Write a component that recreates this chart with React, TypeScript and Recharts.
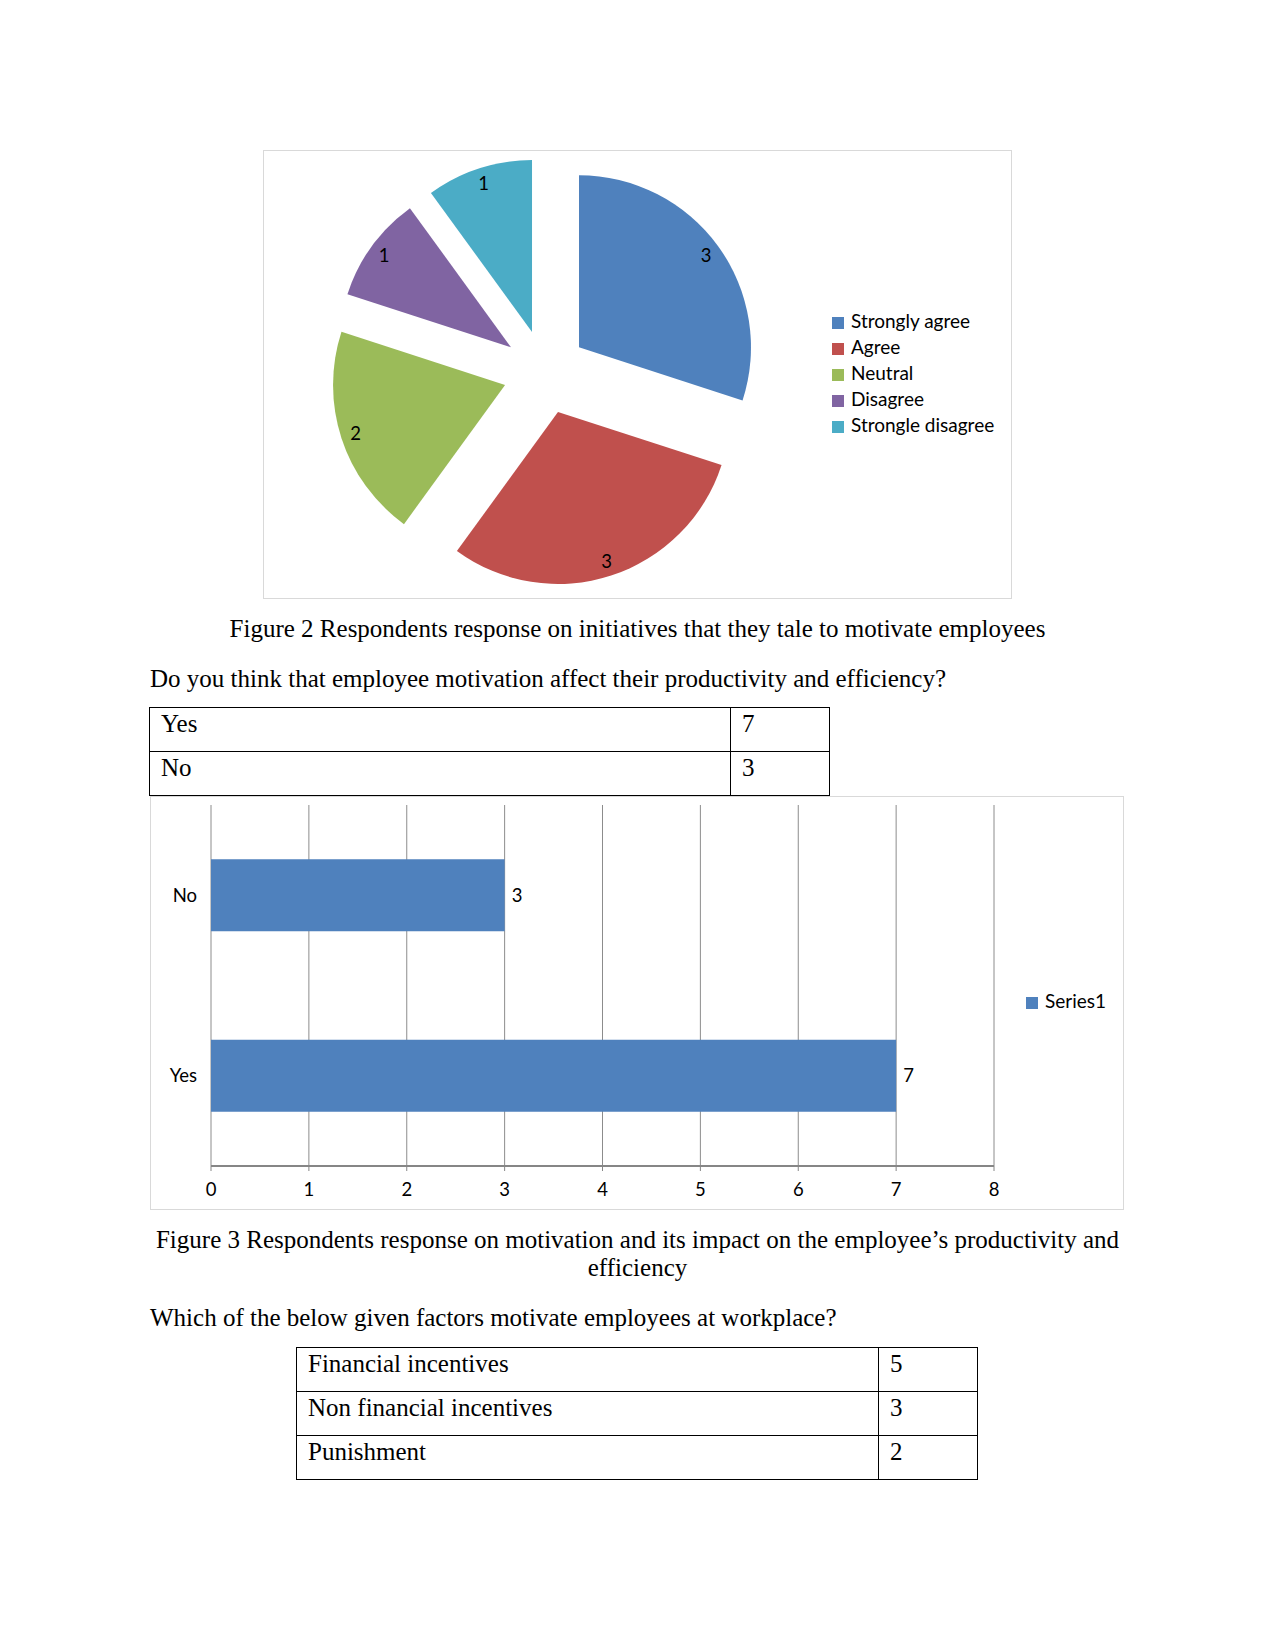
import React from 'react'
import {
  PieChart,
  Pie,
  Cell,
  Legend,
  BarChart,
  Bar,
  XAxis,
  YAxis,
  CartesianGrid,
  LabelList
} from 'recharts'

// figure 2 - pie
const pieNames = ['Strongly agree', 'Agree', 'Neutral', 'Disagree', 'Strongle disagree']
const pieValues = [3, 3, 2, 1, 1]
const pieColors = ['#4F81BD', '#C0504D', '#9BBB59', '#8064A2', '#4BACC6']

// figure 3 - bar (also the first table)
const answerLabels = ['Yes', 'No']
const answerValues = [7, 3]
const xTicks = [0, 1, 2, 3, 4, 5, 6, 7, 8]

// last table
const factorLabels = ['Financial incentives', 'Non financial incentives', 'Punishment']
const factorValues = [5, 3, 2]

const pieData = pieNames.map((name, i) => ({ name, value: pieValues[i] }))
const barData = answerLabels.map((name, i) => ({ name, value: answerValues[i] }))

const EXPLODE = 42
const RAD = Math.PI / 180
const pieTotal = pieValues.reduce((a, b) => a + b, 0)
const midAngles = pieValues.map((v, i) => {
  const before = pieValues.slice(0, i).reduce((a, b) => a + b, 0)
  return 90 - (360 * (before + v / 2)) / pieTotal
})

const chartFont = 'Lato, "Open Sans", sans-serif'
const docFont = '"Liberation Serif", "Times New Roman", serif'

const renderPieLabel = (p: any) => {
  const r = p.outerRadius + EXPLODE - 15
  const x = p.cx + r * Math.cos(-p.midAngle * RAD)
  const y = p.cy + r * Math.sin(-p.midAngle * RAD)
  return (
    <text x={x} y={y} textAnchor="middle" dominantBaseline="central" fill="#000" fontSize={18.5} fontFamily={chartFont}>
      {p.value}
    </text>
  )
}

const blackText = (v: any) => <span style={{ color: '#000', marginLeft: 3 }}>{v}</span>
const keepPieOrder = (item: any) => pieNames.indexOf(item.value)

function DocText({ top, children, center }: { top: number; children: React.ReactNode; center?: boolean }) {
  return (
    <div
      style={{
        position: 'absolute',
        left: 150,
        width: 975,
        top,
        fontFamily: docFont,
        fontSize: 25,
        lineHeight: '28px',
        textAlign: center ? 'center' : 'left',
        color: '#000'
      }}
    >
      {children}
    </div>
  )
}

function DocTable({ left, top, width, firstCol, rows }: { left: number; top: number; width: number; firstCol: number; rows: [string, number][] }) {
  const cell: React.CSSProperties = {
    border: '1px solid #000',
    padding: '2px 10px 0 11px',
    height: 41,
    verticalAlign: 'top',
    fontFamily: docFont,
    fontSize: 25,
    lineHeight: '28px',
    boxSizing: 'border-box'
  }
  return (
    <table style={{ position: 'absolute', left, top, width, borderCollapse: 'collapse', tableLayout: 'fixed' }}>
      <colgroup>
        <col style={{ width: firstCol }} />
        <col />
      </colgroup>
      <tbody>
        {rows.map(([label, value]) => (
          <tr key={label} style={{ height: 44 }}>
            <td style={cell}>{label}</td>
            <td style={cell}>{value}</td>
          </tr>
        ))}
      </tbody>
    </table>
  )
}

export default function App() {
  return (
    <div style={{ position: 'absolute', left: 0, top: 0, width: 1275, height: 1651, background: '#fff' }}>
      {/* Figure 2 */}
      <div style={{ position: 'absolute', left: 263, top: 150, border: '1px solid #d9d9d9' }}>
        <PieChart width={747} height={447} margin={{ top: 0, right: 0, bottom: 0, left: 0 }}>
          <Pie
            data={pieData}
            dataKey="value"
            nameKey="name"
            cx={281}
            cy={221}
            outerRadius={172}
            startAngle={90}
            endAngle={-270}
            stroke="none"
            label={renderPieLabel}
            labelLine={false}
            isAnimationActive={false}
          >
            {pieData.map((d, i) => {
              const dx = EXPLODE * Math.cos(midAngles[i] * RAD)
              const dy = -EXPLODE * Math.sin(midAngles[i] * RAD)
              return (
                <Cell
                  key={d.name}
                  fill={pieColors[i]}
                  transform={`translate(${dx} ${dy})`}
                  style={{ transform: `translate(${dx}px, ${dy}px)` }}
                />
              )
            })}
          </Pie>
          <Legend
            layout="vertical"
            align="center"
            verticalAlign="middle"
            iconType="square"
            iconSize={12}
            itemSorter={keepPieOrder}
            formatter={blackText}
            wrapperStyle={{ left: 568, top: 157, width: 'auto', lineHeight: '26px', fontFamily: chartFont, fontSize: 19 }}
          />
        </PieChart>
      </div>

      <DocText top={615} center>
        Figure 2 Respondents response on initiatives that they tale to motivate employees
      </DocText>
      <DocText top={665}>Do you think that employee motivation affect their productivity and efficiency?</DocText>

      <DocTable left={149} top={707} width={681} firstCol={581} rows={answerLabels.map((l, i) => [l, answerValues[i]])} />

      {/* Figure 3 */}
      <div style={{ position: 'absolute', left: 150, top: 796, border: '1px solid #d9d9d9' }}>
        <BarChart
          width={972}
          height={412}
          data={barData}
          layout="vertical"
          margin={{ top: 8, right: 129, left: 0, bottom: 0 }}
          barCategoryGap="30%"
        >
          <CartesianGrid horizontal={false} stroke="#8c8c8c" />
          <XAxis
            type="number"
            domain={[0, 8]}
            ticks={xTicks}
            interval={0}
            height={43}
            tickSize={5}
            tickMargin={12}
            axisLine={{ stroke: '#868686', strokeWidth: 2 }}
            tickLine={{ stroke: '#868686' }}
            tick={{ fill: '#000', fontSize: 18.5, fontFamily: chartFont }}
          />
          <YAxis
            yAxisId="edges"
            type="number"
            domain={[0, 2]}
            ticks={[0, 1, 2]}
            width={0}
            tick={false}
            tickSize={8}
            axisLine={{ stroke: '#868686', strokeWidth: 2 }}
            tickLine={{ stroke: '#868686', strokeWidth: 2 }}
          />
          <YAxis
            yAxisId="cat"
            type="category"
            dataKey="name"
            reversed
            width={60}
            axisLine={false}
            tickLine={false}
            tickSize={6}
            tickMargin={8}
            tick={{ fill: '#000', fontSize: 18.5, fontFamily: chartFont }}
          />
          <Bar yAxisId="cat" dataKey="value" name="Series1" fill="#4F81BD" isAnimationActive={false}>
            <LabelList dataKey="value" position="right" offset={7} fill="#000" fontSize={18.5} fontFamily={chartFont} />
          </Bar>
          <Legend
            layout="vertical"
            align="center"
            verticalAlign="middle"
            iconType="square"
            iconSize={12}
            formatter={blackText}
            wrapperStyle={{ left: 875, top: 191, width: 'auto', lineHeight: '26px', fontFamily: chartFont, fontSize: 19 }}
          />
        </BarChart>
      </div>

      <DocText top={1226} center>
        Figure 3 Respondents response on motivation and its impact on the employee’s productivity and efficiency
      </DocText>
      <DocText top={1304}>Which of the below given factors motivate employees at workplace?</DocText>

      <DocTable left={296} top={1347} width={682} firstCol={582} rows={factorLabels.map((l, i) => [l, factorValues[i]])} />
    </div>
  )
}
